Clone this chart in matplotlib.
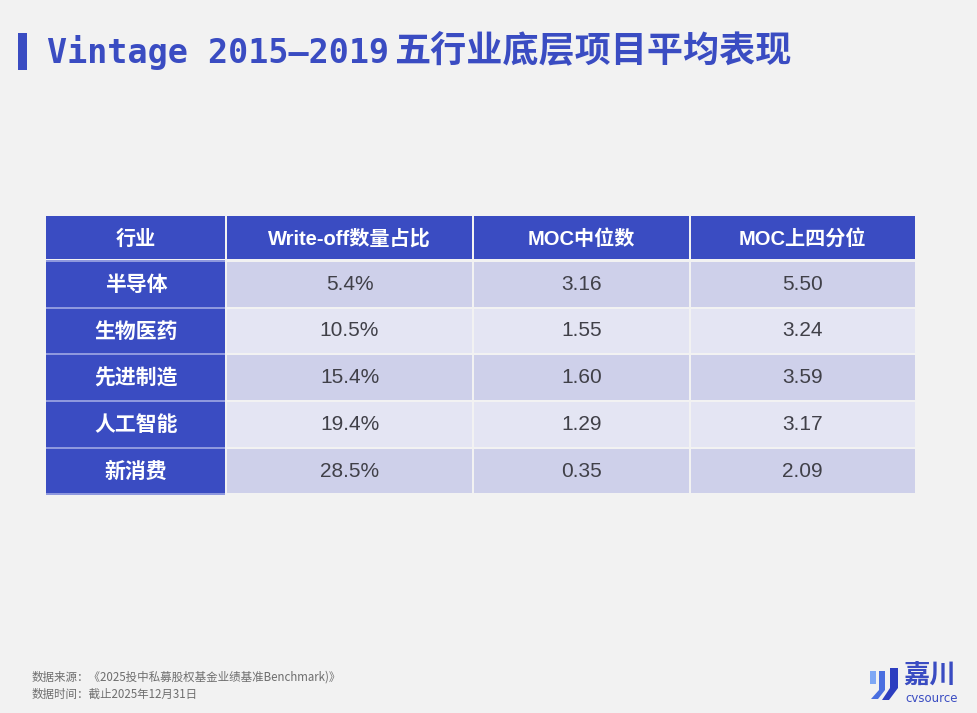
import matplotlib.pyplot as plt
from matplotlib.patches import Rectangle, Polygon

plt.rcParams['font.family'] = ['Noto Sans CJK SC', 'DejaVu Sans']

# ----------------------------
# Dati della tabella
# ----------------------------
title_lat = "Vintage 2015—2019"
title_cjk = "五行业底层项目平均表现"
headers = ["行业", "Write-off数量占比", "MOC中位数", "MOC上四分位"]
industries = ["半导体", "生物医药", "先进制造", "人工智能", "新消费"]
writeoff = ["5.4%", "10.5%", "15.4%", "19.4%", "28.5%"]
moc_median = ["3.16", "1.55", "1.60", "1.29", "0.35"]
moc_q3 = ["5.50", "3.24", "3.59", "3.17", "2.09"]
source_lines = ["数据来源：《2025投中私募股权基金业绩基准Benchmark)》",
                "数据时间：截止2025年12月31日"]

# ----------------------------
# Layout (pixel)
# ----------------------------
W, H = 977, 713
BG = "#F2F2F2"
BLUE = "#3A4CC2"
ROW_DARK = "#CED0EA"
ROW_LIGHT = "#E4E5F3"
SANS_LAT = ["Liberation Sans", "Noto Sans CJK SC"]

col_edges = [46, 226, 473, 690, 915]
header_top, header_h = 216, 43
row_top0, row_pitch, row_h = 262, 46.7, 44.6

fig = plt.figure(figsize=(W / 100, H / 100), dpi=100, facecolor=BG)
ax = fig.add_axes([0, 0, 1, 1])
ax.set_xlim(0, W)
ax.set_ylim(H, 0)
ax.axis("off")

# titolo
ax.add_patch(Rectangle((18, 33), 9, 37, color=BLUE, lw=0))
ax.text(47, 52, title_lat, fontsize=24, fontweight="bold", color=BLUE, va="center", ha="left",
        family=["DejaVu Sans Mono", "Noto Sans CJK SC"])
ax.text(394, 51, title_cjk, fontsize=26, fontweight="bold", color=BLUE, va="center", ha="left")

# header
for j, h in enumerate(headers):
    x0, x1 = col_edges[j], col_edges[j + 1]
    gap_l = 0 if j == 0 else 1
    gap_r = 0 if j == len(headers) - 1 else 1
    ax.add_patch(Rectangle((x0 + gap_l, header_top), x1 - x0 - gap_l - gap_r, header_h,
                           color=BLUE, lw=0))
    ax.text((x0 + x1) / 2, header_top + header_h / 2 + 1.5, h, color="white", fontsize=14.5,
            fontweight="bold", ha="center", va="center", family=SANS_LAT)

# righe
table_cols = [industries, writeoff, moc_median, moc_q3]
for i in range(len(industries)):
    y = row_top0 + i * row_pitch
    fill = ROW_DARK if i % 2 == 0 else ROW_LIGHT
    for j, col in enumerate(table_cols):
        x0, x1 = col_edges[j], col_edges[j + 1]
        gap_l = 0 if j == 0 else 1
        gap_r = 0 if j == len(table_cols) - 1 else 1
        if j == 0:
            # linea azzurra tra le celle blu
            ax.add_patch(Rectangle((x0, y - 2), x1 - x0 - gap_r, row_h + 4, color="#8E98DE", lw=0))
            ax.add_patch(Rectangle((x0, y), x1 - x0 - gap_r, row_h, color=BLUE, lw=0))
            ax.text((x0 + x1) / 2, y + row_h / 2, col[i], color="white", fontsize=15,
                    fontweight="bold", ha="center", va="center")
        else:
            ax.add_patch(Rectangle((x0 + gap_l, y), x1 - x0 - gap_l - gap_r, row_h,
                                   color=fill, lw=0))
            ax.text((x0 + x1) / 2, y + row_h / 2, col[i], color="#404048", fontsize=15,
                    ha="center", va="center", family=SANS_LAT)

# fonte
for k, line in enumerate(source_lines):
    ax.text(32, 677 + k * 17, line, fontsize=8.3, color="#6E6E6E", ha="left", va="center")

# logo
ax.add_patch(Rectangle((870, 671), 6, 13, color="#7FA8F5", lw=0))
ax.add_patch(Polygon([[879, 671], [885, 671], [885, 690], [878, 699], [871, 699], [879, 690]],
                     closed=True, color="#4A6FE0", lw=0))
ax.add_patch(Polygon([[890, 668], [898, 668], [898, 688], [889, 700], [882, 700], [890, 688]],
                     closed=True, color="#2D3EC0", lw=0))
ax.text(903, 676, "嘉川", fontsize=19, fontweight="bold", color=BLUE, ha="left", va="center")
ax.text(905, 698, "cvsource", fontsize=8.5, color=BLUE, ha="left", va="center",
        family=["DejaVu Sans"])

fig.savefig("out.png", dpi=100, facecolor=BG)
